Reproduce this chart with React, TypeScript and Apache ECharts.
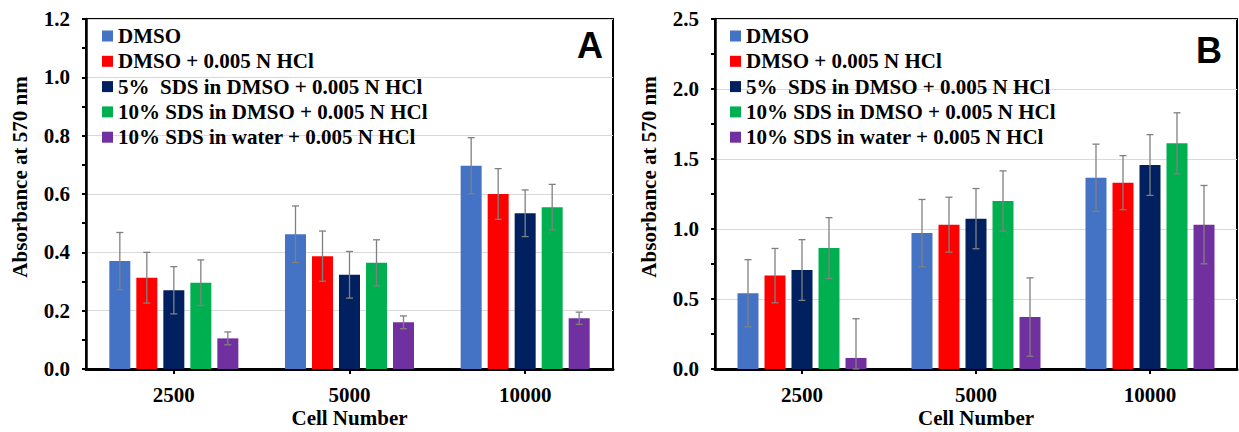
import React, { useEffect, useRef } from "react";
import * as echarts from "echarts";

const categories = ["2500", "5000", "10000"];
const seriesNames = [
  "DMSO",
  "DMSO + 0.005 N HCl",
  "5%  SDS in DMSO + 0.005 N HCl",
  "10% SDS in DMSO + 0.005 N HCl",
  "10% SDS in water + 0.005 N HCl",
];
const seriesColors = ["#4472C4", "#FF0000", "#002060", "#00B050", "#7030A0"];

// Panel A
const meanA_DMSO = [0.370, 0.462, 0.697];
const meanA_DMSO_HCl = [0.313, 0.387, 0.600];
const meanA_SDS5 = [0.270, 0.323, 0.534];
const meanA_SDS10 = [0.296, 0.364, 0.555];
const meanA_SDS10w = [0.105, 0.160, 0.174];
const errA_DMSO = [0.098, 0.097, 0.096];
const errA_DMSO_HCl = [0.087, 0.086, 0.087];
const errA_SDS5 = [0.081, 0.080, 0.080];
const errA_SDS10 = [0.078, 0.079, 0.078];
const errA_SDS10w = [0.022, 0.022, 0.021];

// Panel B
const meanB_DMSO = [0.541, 0.971, 1.366];
const meanB_DMSO_HCl = [0.667, 1.031, 1.331];
const meanB_SDS5 = [0.707, 1.074, 1.457];
const meanB_SDS10 = [0.864, 1.200, 1.612];
const meanB_SDS10w = [0.079, 0.371, 1.031];
const errB_DMSO = [0.240, 0.240, 0.240];
const errB_DMSO_HCl = [0.194, 0.196, 0.193];
const errB_SDS5 = [0.217, 0.215, 0.217];
const errB_SDS10 = [0.217, 0.215, 0.218];
const errB_SDS10w = [0.280, 0.280, 0.280];

const yTitle = "Absorbance at 570 nm";
const xTitle = "Cell Number";

const meansA = [meanA_DMSO, meanA_DMSO_HCl, meanA_SDS5, meanA_SDS10, meanA_SDS10w];
const errsA = [errA_DMSO, errA_DMSO_HCl, errA_SDS5, errA_SDS10, errA_SDS10w];
const meansB = [meanB_DMSO, meanB_DMSO_HCl, meanB_SDS5, meanB_SDS10, meanB_SDS10w];
const errsB = [errB_DMSO, errB_DMSO_HCl, errB_SDS5, errB_SDS10, errB_SDS10w];

const SERIF = "'Liberation Serif', 'Times New Roman', serif";
const BAR_W = 21;
const BAR_GAP_PX = 6;

function buildOption() {
  const grids = [
    { left: 86, top: 19, width: 527, height: 350 },
    { left: 715, top: 19, width: 522, height: 350 },
  ].map((g) => ({
    ...g,
    show: true,
    borderColor: "#000",
    borderWidth: 2,
    backgroundColor: "transparent",
    containLabel: false,
    outerBoundsMode: "none",
  }));

  const xAxes = [0, 1].map((i) => ({
    type: "category",
    gridIndex: i,
    data: categories,
    name: xTitle,
    nameLocation: "middle",
    nameGap: 38,
    nameMoveOverlap: false,
    nameTextStyle: { fontFamily: SERIF, fontWeight: "bold", fontSize: 21, lineHeight: 21, color: "#000" },
    axisLine: { show: true, lineStyle: { color: "#000", width: 3 } },
    axisTick: { show: true, alignWithLabel: true, length: 5, lineStyle: { color: "#000", width: 2 } },
    axisLabel: { fontFamily: SERIF, fontWeight: "bold", fontSize: 21, lineHeight: 21, color: "#000", margin: 15 },
    splitLine: { show: false },
  }));

  const yCfg = [
    { max: 1.2, interval: 0.2 },
    { max: 2.5, interval: 0.5 },
  ];
  const yAxes = yCfg.map((c, i) => ({
    type: "value",
    gridIndex: i,
    min: 0,
    max: c.max,
    interval: c.interval,
    name: yTitle,
    nameLocation: "middle",
    nameRotate: 90,
    nameGap: 56,
    nameTextStyle: {
      fontFamily: SERIF,
      fontWeight: "bold",
      fontSize: 21,
      color: "#000",
      padding: [0, 0, 0, 34],
    },
    axisLine: { show: true, lineStyle: { color: "#000", width: 2.5 } },
    axisTick: { show: true, length: 4, lineStyle: { color: "#000", width: 2 } },
    minorTick: { show: true, splitNumber: 2, length: 4, lineStyle: { color: "#000", width: 2 } },
    axisLabel: {
      fontFamily: SERIF,
      fontWeight: "bold",
      fontSize: 21,
      color: "#000",
      margin: 16,
      formatter: (v: number) => v.toFixed(1),
    },
    splitLine: { show: true, lineStyle: { color: "#d9d9d9", width: 1 } },
  }));

  const series: any[] = [];
  const panels = [
    { means: meansA, errs: errsA },
    { means: meansB, errs: errsB },
  ];
  panels.forEach((p, pi) => {
    p.means.forEach((m, si) => {
      series.push({
        type: "bar",
        name: seriesNames[si],
        xAxisIndex: pi,
        yAxisIndex: pi,
        data: m,
        barWidth: BAR_W,
        barGap: ((BAR_GAP_PX / BAR_W) * 100).toFixed(1) + "%",
        itemStyle: { color: seriesColors[si] },
        z: 2,
      });
    });
    p.means.forEach((m, si) => {
      const offset = (si - (p.means.length - 1) / 2) * (BAR_W + BAR_GAP_PX);
      series.push({
        type: "custom",
        name: "err-" + pi + "-" + si,
        xAxisIndex: pi,
        yAxisIndex: pi,
        z: 5,
        silent: true,
        data: m.map((v, ci) => [ci, v, p.errs[si][ci]]),
        renderItem: (params: any, api: any) => {
          const c = api.value(0);
          const v = api.value(1);
          const e = api.value(2);
          const hi = api.coord([c, v + e]);
          const lo = api.coord([c, Math.max(v - e, 0)]);
          const x = hi[0] + offset;
          const cap = 3.5;
          const style = { stroke: "#808080", lineWidth: 1.3 };
          return {
            type: "group",
            children: [
              { type: "line", shape: { x1: x, y1: hi[1], x2: x, y2: lo[1] }, style },
              { type: "line", shape: { x1: x - cap, y1: hi[1], x2: x + cap, y2: hi[1] }, style },
              { type: "line", shape: { x1: x - cap, y1: lo[1], x2: x + cap, y2: lo[1] }, style },
            ],
          };
        },
      });
    });
  });

  const legendBase = {
    orient: "vertical",
    top: 25.5,
    padding: 0,
    icon: "rect",
    itemWidth: 11,
    itemHeight: 11,
    itemGap: 4.3,
    selectedMode: false,
    textStyle: { fontFamily: SERIF, fontWeight: "bold", fontSize: 21, color: "#000", lineHeight: 21 },
    data: seriesNames,
  };

  return {
    animation: false,
    backgroundColor: "#fff",
    grid: grids,
    xAxis: xAxes,
    yAxis: yAxes,
    legend: [
      { ...legendBase, left: 102 },
      { ...legendBase, left: 730 },
    ],
    graphic: [
      {
        type: "text",
        left: 577,
        top: 27,
        style: { text: "A", fontFamily: "'Liberation Sans', Arial, sans-serif", fontWeight: "bold", fontSize: 36, fill: "#000" },
      },
      {
        type: "text",
        left: 1196,
        top: 32,
        style: { text: "B", fontFamily: "'Liberation Sans', Arial, sans-serif", fontWeight: "bold", fontSize: 36, fill: "#000" },
      },
    ],
    series,
  };
}

export default function App() {
  const ref = useRef<HTMLDivElement>(null);
  useEffect(() => {
    if (!ref.current) return;
    const chart = echarts.init(ref.current, undefined, { renderer: "svg" });
    chart.setOption(buildOption() as any);
    return () => chart.dispose();
  }, []);
  return (
    <div
      ref={ref}
      style={{ position: "absolute", left: 0, top: 0, width: 1239, height: 432, background: "#fff" }}
    />
  );
}
